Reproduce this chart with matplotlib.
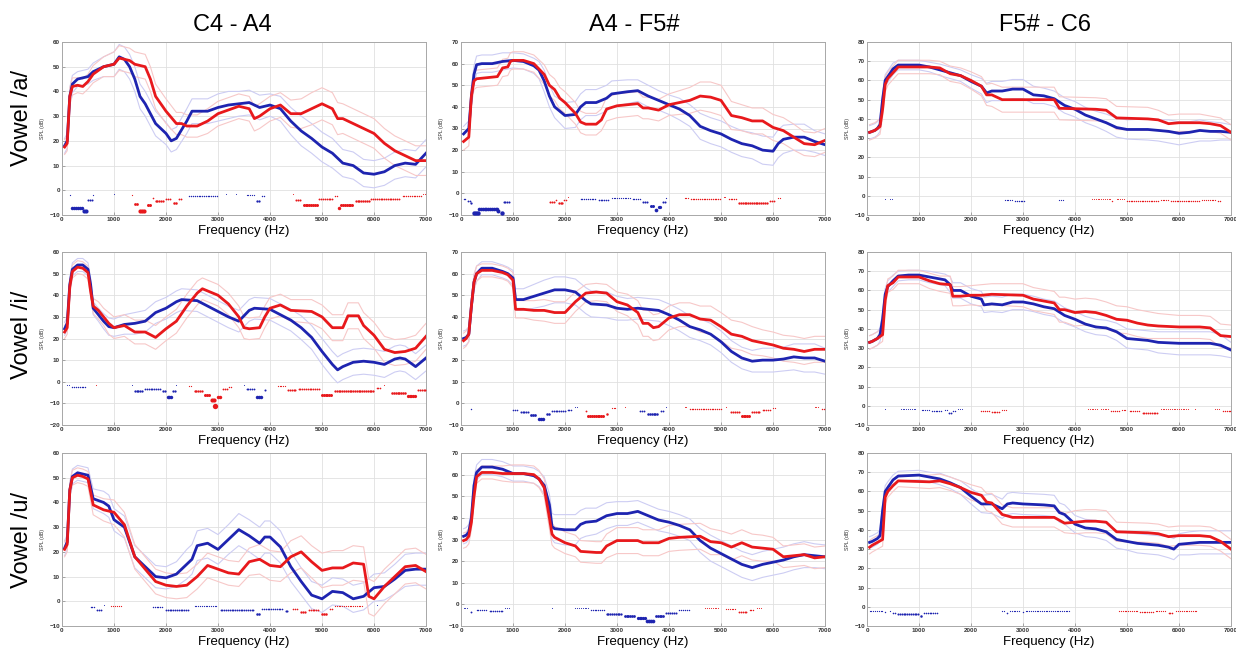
import numpy as np
import matplotlib.pyplot as plt

plt.rcParams['font.family'] = ['Liberation Sans', 'DejaVu Sans']

RANGES = ['C4 - A4', 'A4 - F5#', 'F5# - C6']
VOWELS = ['Vowel /a/', 'Vowel /i/', 'Vowel /u/']
FREQ_TICKS = [0, 1000, 2000, 3000, 4000, 5000, 6000, 7000]

# mean spectra: (frequency Hz, mean SPL dB, standard deviation dB)
A_LOW_BLUE = [(50, 18, 3), (100, 20, 3), (150, 38, 3.5), (200, 43, 3.5), (300, 45, 3), (400, 45.5, 3),
              (500, 46, 3), (600, 48, 3.5), (800, 50, 4), (1000, 51, 5), (1100, 54, 5), (1200, 53, 5),
              (1300, 50, 5), (1400, 45, 5), (1500, 38, 5), (1600, 35, 5), (1800, 27, 5), (2000, 23, 4.5),
              (2100, 20, 4.5), (2200, 21, 4.5), (2400, 28, 5), (2500, 32, 5), (2800, 32, 5), (3000, 33.5, 5.5),
              (3200, 34.5, 5.5), (3400, 35, 5), (3600, 35.5, 5), (3800, 33.5, 5), (4000, 34.5, 4.5),
              (4200, 33, 5), (4400, 28, 5.5), (4600, 24, 6), (4800, 21, 6), (5000, 17.5, 6), (5200, 15, 6),
              (5400, 11, 5.5), (5600, 10, 5.5), (5800, 7, 5.5), (6000, 6.5, 5.5), (6200, 7.5, 5.5),
              (6400, 10, 5.5), (6600, 11, 5.5), (6800, 10.5, 5.5), (7000, 15, 5.5)]
A_LOW_RED = [(50, 17.5, 3), (100, 19, 3), (150, 38, 3.5), (200, 42, 3.5), (300, 42.5, 3), (400, 42, 3),
             (500, 44, 3), (600, 47, 3.5), (800, 50, 4), (1000, 51, 5), (1100, 53.5, 5), (1300, 52.5, 5),
             (1400, 51, 5), (1600, 50, 5), (1700, 45, 5), (1800, 38, 5), (2000, 32, 5), (2200, 27, 4.5),
             (2300, 27, 4.5), (2400, 26, 4.5), (2600, 26, 4.5), (2800, 28, 5), (3000, 31, 5), (3200, 32.5, 5),
             (3400, 34, 5), (3600, 33, 5), (3700, 29, 5), (3800, 30, 5), (4000, 33, 5), (4200, 34.5, 5),
             (4400, 31, 5.5), (4600, 31, 6), (4800, 33, 6.5), (5000, 35, 6.5), (5200, 33, 6.5),
             (5300, 29, 6.5), (5400, 29, 6), (5600, 27, 6), (5800, 25, 6), (6000, 23, 6), (6200, 19, 6),
             (6400, 16, 6), (6600, 14, 6), (6800, 12, 6), (7000, 12, 6)]
A_MID_BLUE = [(50, 27.5, 3.5), (150, 30, 3.5), (200, 45, 4), (250, 55, 4), (300, 59.5, 4), (400, 60, 4),
              (600, 60, 4), (800, 61, 4), (1000, 61.5, 3.5), (1200, 61, 3.5), (1400, 59, 3.5), (1500, 57, 4),
              (1600, 52, 5), (1700, 45, 5), (1800, 40, 5), (2000, 36, 6), (2200, 36.5, 6), (2300, 40, 6),
              (2400, 42, 6), (2600, 42, 6), (2800, 44, 6), (2900, 46, 6), (3200, 47, 5.5), (3400, 47.5, 5),
              (3600, 45, 5), (3800, 43, 4.5), (4000, 41, 4.5), (4200, 39, 5), (4400, 36, 5), (4600, 31, 6),
              (4800, 29, 6), (5000, 27.5, 6), (5200, 25, 6), (5400, 23, 6), (5600, 22, 6), (5800, 20, 6.5),
              (6000, 19.5, 6.5), (6100, 23, 6.5), (6200, 25, 6.5), (6400, 26, 6), (6600, 26, 6),
              (6800, 24, 5), (7000, 22.5, 5)]
A_MID_RED = [(50, 24, 4), (150, 26, 4), (200, 45, 4), (250, 52, 4), (300, 53, 4), (500, 53.5, 4),
             (700, 54, 4), (800, 58, 4), (900, 58.5, 4), (950, 61, 4), (1000, 61.5, 4), (1200, 61.5, 4),
             (1400, 60, 4), (1600, 55, 4.5), (1700, 50, 5), (1800, 48, 5), (1900, 44, 5), (2000, 42, 5),
             (2200, 37, 5), (2300, 33, 5), (2400, 32, 5), (2600, 32, 5), (2700, 34, 5), (2800, 39, 5.5),
             (3000, 40.5, 5.5), (3200, 41, 5.5), (3400, 41.5, 5.5), (3500, 39.5, 5), (3600, 39.5, 5),
             (3800, 38.5, 5), (4000, 41, 5), (4200, 42, 5.5), (4400, 43, 6), (4600, 45, 6.5),
             (4800, 44.5, 7), (5000, 43, 7), (5200, 36, 6.5), (5400, 35, 6), (5600, 33.5, 6),
             (5800, 33.5, 6), (6000, 30.5, 6), (6200, 29, 6), (6400, 26, 6), (6600, 23, 5.5),
             (6800, 22.5, 5.5), (7000, 24.5, 5.5)]
A_HIGH_BLUE = [(50, 33, 3.5), (100, 33.5, 3.5), (150, 34, 3.5), (200, 35, 3.5), (250, 37, 3.5), (300, 50, 3.5),
               (350, 60, 3), (400, 62, 3), (500, 66, 3), (600, 68, 2.5), (1000, 68, 2.5), (1200, 67, 2.5),
               (1400, 65.5, 3), (1600, 64, 3), (1800, 62.5, 3), (2000, 59.5, 3.5), (2200, 57, 4),
               (2300, 53.5, 5), (2400, 54.5, 5), (2600, 54.5, 5), (2800, 55.5, 5), (3000, 55.5, 5),
               (3200, 52.5, 4.5), (3400, 52, 4), (3600, 50.5, 4), (3800, 47, 4), (4000, 45, 4), (4200, 42, 4),
               (4400, 40, 4), (4600, 38, 4.5), (4800, 35.5, 5), (5000, 34.5, 5), (5400, 34.5, 5.5),
               (5600, 34, 5.5), (5800, 33.5, 6), (6000, 32.5, 6), (6200, 33, 5.5), (6400, 34, 5.5),
               (6600, 33.5, 5), (6800, 33.5, 4.5), (7000, 33, 4)]
A_HIGH_RED = [(50, 33, 4), (150, 34, 4), (200, 35, 4), (250, 36, 4), (300, 45, 4), (350, 58, 4), (400, 61, 3.5),
              (500, 64, 3.5), (600, 67, 3.5), (1200, 67, 3.5), (1400, 66.5, 3.5), (1600, 63.5, 4),
              (1800, 62.5, 4), (2000, 60, 4.5), (2200, 57, 5), (2300, 52.5, 5.5), (2400, 52.5, 6),
              (2600, 50, 6.5), (3600, 50, 6.5), (3700, 45.5, 6), (4400, 45, 6), (4600, 44.5, 6),
              (4800, 40.5, 6), (5400, 40, 6), (5600, 39.5, 5), (5800, 37.5, 4.5), (6000, 38, 4.5),
              (6400, 38, 4.5), (6600, 37.5, 4), (6800, 36.5, 4), (7000, 33, 4)]

I_LOW_BLUE = [(50, 24.5, 3), (100, 27, 3), (150, 45, 3), (200, 52, 3), (300, 54, 3), (400, 54, 3), (500, 52, 3),
              (550, 45, 3), (600, 34, 3), (700, 31, 3), (800, 28, 3.5), (900, 25.5, 4), (1000, 25, 4),
              (1200, 26.5, 4.5), (1400, 27, 5), (1600, 28, 5), (1800, 32, 5), (2000, 34, 5), (2200, 37, 5),
              (2300, 38, 5), (2600, 37.5, 5), (2800, 35, 5), (3000, 32.5, 5), (3200, 30, 5), (3400, 28, 5),
              (3600, 33, 5), (3700, 34, 5), (4000, 33.5, 5), (4200, 31, 5), (4400, 28.5, 5), (4600, 25, 5.5),
              (4800, 20.5, 5.5), (5000, 14, 6), (5200, 8, 6), (5300, 5.5, 6), (5400, 7, 6), (5600, 9, 6),
              (5800, 9.5, 6), (6000, 9, 6), (6200, 8, 6), (6400, 10.5, 6), (6500, 11, 6), (6600, 10.5, 6),
              (6800, 7, 6), (7000, 11, 6)]
I_LOW_RED = [(50, 23, 3), (100, 25, 3), (150, 44, 3), (200, 51, 3), (300, 53, 3), (400, 52.5, 3), (500, 50.5, 3),
             (550, 42, 3), (600, 35, 3.5), (700, 33, 4), (800, 30, 4), (900, 27, 5), (1000, 25, 5),
             (1200, 26, 5), (1400, 23, 5.5), (1600, 23, 5.5), (1800, 20.5, 5.5), (2000, 24.5, 5.5),
             (2200, 28, 5.5), (2400, 35, 5.5), (2600, 41, 5.5), (2700, 43, 5), (2800, 42, 5), (3000, 40, 5),
             (3200, 36, 5), (3400, 30, 5), (3500, 25, 5), (3600, 24.5, 5), (3800, 25, 5), (3900, 30, 5),
             (4000, 34, 5), (4200, 35.5, 5), (4400, 33, 5), (4800, 32.5, 5.5), (5000, 30, 5.5), (5200, 25, 6),
             (5400, 25, 6), (5500, 30.5, 6), (5700, 30.5, 6), (5800, 26, 6), (6000, 21.5, 6), (6200, 15, 6),
             (6400, 13.5, 6), (6600, 14, 6), (6800, 15.5, 6), (7000, 21, 6)]
I_MID_BLUE = [(50, 30, 3.5), (100, 30.5, 3.5), (150, 32, 3.5), (200, 45, 3.5), (250, 56, 3.5), (300, 60, 3.5),
              (400, 62.5, 3), (600, 62.5, 3), (800, 61, 3), (900, 60, 3), (1000, 58, 3.5), (1050, 48, 5),
              (1200, 48, 5), (1400, 49.5, 5.5), (1600, 51, 6), (1800, 52.5, 6), (2000, 52.5, 6),
              (2200, 51.5, 6), (2400, 47.5, 6), (2500, 46, 6), (2800, 45.5, 6), (3000, 44, 5.5),
              (3200, 43.5, 5), (3400, 44, 5), (3600, 43.5, 5), (3800, 43, 5), (4000, 41, 5), (4200, 38.5, 5),
              (4400, 35.5, 5), (4600, 34, 5), (4800, 32, 5), (5000, 28.5, 5), (5200, 24, 5), (5400, 21, 5),
              (5600, 19.5, 5), (5800, 20, 5.5), (6000, 20, 5.5), (6200, 20.5, 5.5), (6400, 21.5, 6),
              (6600, 21, 6.5), (6800, 21, 6.5), (7000, 19.5, 6)]
I_MID_RED = [(50, 29, 3.5), (100, 30, 3.5), (150, 32, 3.5), (200, 45, 3.5), (250, 56, 3.5), (300, 60, 3.5),
             (400, 61.5, 3), (600, 61.5, 3), (800, 60.5, 3), (900, 59.5, 3), (1000, 57, 3.5), (1050, 43.5, 4),
             (1200, 43.5, 4), (1400, 43, 4.5), (1600, 43, 5), (1800, 42, 5), (2000, 42, 5), (2200, 47, 4.5),
             (2400, 51, 4), (2600, 51.5, 4), (2800, 51, 4), (3000, 47, 4.5), (3200, 45.5, 5), (3400, 42, 5.5),
             (3500, 37, 6), (3600, 37, 6), (3700, 35, 6), (3800, 35.5, 6), (4000, 39.5, 5.5), (4200, 41, 5.5),
             (4400, 41, 5.5), (4600, 39, 6), (4800, 38.5, 6.5), (5000, 35.5, 6.5), (5200, 32, 6.5),
             (5400, 31, 6.5), (5600, 29, 6.5), (5800, 28, 6), (6000, 27, 6), (6200, 25.5, 6), (6400, 25, 6),
             (6600, 24, 6), (6800, 25, 6), (7000, 25, 6)]
I_HIGH_BLUE = [(50, 33, 3.5), (100, 33.5, 3.5), (200, 35, 3.5), (250, 37, 3.5), (300, 45, 3.5), (350, 58, 3),
               (400, 62, 3), (500, 65, 3), (600, 67.5, 2.5), (800, 68, 2.5), (1000, 68, 2.5), (1200, 67, 3),
               (1400, 66, 3), (1500, 65.5, 3), (1600, 63, 4), (1650, 60, 4), (1800, 60, 4), (1900, 58.5, 4),
               (2000, 57, 4), (2200, 55.5, 4), (2250, 52.5, 4), (2400, 53, 4), (2600, 52.5, 4), (2800, 54, 4),
               (3000, 54, 4), (3200, 53, 4), (3400, 51.5, 4), (3600, 50.5, 4), (3800, 47, 4), (4000, 45, 4),
               (4200, 42.5, 4), (4400, 41, 4), (4600, 40.5, 4), (4800, 38.5, 4.5), (5000, 35, 5),
               (5200, 34.5, 5), (5400, 34, 5), (5600, 33, 5.5), (6000, 32.5, 6), (6600, 32.5, 6),
               (6800, 31.5, 5.5), (7000, 29, 4)]
I_HIGH_RED = [(50, 33, 3.5), (100, 33.5, 3.5), (200, 35, 3.5), (300, 37, 3.5), (350, 55, 3.5), (400, 62.5, 3.5),
              (500, 64, 3.5), (600, 67, 3.5), (1000, 67, 3.5), (1200, 65, 4), (1400, 63.5, 4), (1600, 63, 4.5),
              (1650, 57, 5), (1800, 57, 5), (2000, 57.5, 5), (2200, 57.5, 5.5), (2400, 58, 5.5),
              (3000, 57.5, 6), (3200, 55.5, 6), (3400, 54.5, 6), (3600, 53.5, 6), (3700, 50, 6.5),
              (3800, 50, 6.5), (4000, 48.5, 7), (4200, 49, 7), (4400, 48.5, 7), (4600, 47, 7), (4800, 45, 7),
              (5000, 44.5, 7), (5200, 43, 7), (5400, 42, 7), (5600, 41.5, 6.5), (6000, 41, 6), (6400, 41, 6),
              (6600, 40.5, 6), (6800, 36.5, 6), (7000, 36, 6)]

U_LOW_BLUE = [(50, 21.5, 3), (100, 24, 3), (150, 45, 3), (200, 50.5, 3), (300, 52, 3), (400, 51.5, 3),
              (500, 51, 3), (600, 41.5, 4), (800, 40, 4.5), (900, 38.5, 4.5), (1000, 33, 4.5), (1200, 30, 4.5),
              (1400, 18, 4.5), (1600, 14, 4.5), (1800, 10, 4.5), (2000, 9.5, 4.5), (2200, 11, 5),
              (2400, 15, 6), (2500, 17, 6), (2600, 22.5, 6), (2800, 23.5, 6), (3000, 21, 6), (3200, 25, 6),
              (3400, 29, 6.5), (3600, 26.5, 6.5), (3800, 23.5, 6.5), (3900, 26, 6.5), (4000, 26, 6.5),
              (4200, 22, 6.5), (4400, 14, 6), (4600, 8, 5.5), (4800, 2.5, 5.5), (5000, 1, 5.5), (5200, 4, 5.5),
              (5400, 3.5, 5.5), (5600, 1, 5.5), (5800, 2, 5.5), (6000, 5.5, 5.5), (6200, 6, 5.5),
              (6400, 9, 6), (6600, 12.5, 6.5), (6800, 13, 6.5), (7000, 13, 6.5)]
U_LOW_RED = [(50, 21, 3), (100, 23, 3), (150, 45, 3), (200, 50, 3), (300, 51, 3), (400, 50.5, 3),
             (500, 49.5, 3), (600, 39, 4), (800, 37, 4.5), (1000, 36, 5), (1200, 31, 5), (1400, 18, 5),
             (1600, 13, 5), (1800, 8, 5), (2000, 6.5, 5), (2200, 6, 5), (2400, 6.5, 5), (2600, 10, 5),
             (2800, 14.5, 5), (3000, 13, 5), (3200, 11.5, 5), (3400, 11, 5), (3600, 16, 5.5), (3800, 17, 6),
             (4000, 14.5, 6), (4200, 14, 6), (4400, 18, 6.5), (4600, 20, 6.5), (4800, 16, 6.5),
             (5000, 12.5, 7), (5200, 13.5, 7), (5400, 13.5, 7), (5600, 15.5, 7), (5800, 15, 7), (5900, 2, 7),
             (6000, 1, 7), (6200, 6, 7), (6400, 10, 7), (6600, 14, 7), (6800, 14.5, 7), (7000, 12, 7)]
U_MID_BLUE = [(50, 31.5, 3.5), (100, 32, 3.5), (150, 33.5, 3.5), (200, 40, 3.5), (250, 55, 3.5), (300, 61, 3.5),
              (400, 63.5, 3.5), (600, 63.5, 3.5), (800, 62.5, 3.5), (900, 61.5, 3.5), (1000, 60.5, 3.5),
              (1200, 60.5, 3.5), (1400, 59.5, 3.5), (1500, 58, 3.5), (1600, 55, 4), (1700, 46, 5),
              (1750, 36, 6), (1800, 35, 6.5), (2000, 34.5, 7), (2200, 34.5, 7), (2300, 37, 6.5),
              (2400, 38, 6.5), (2600, 38.5, 6), (2800, 41, 6), (3000, 42, 5.5), (3200, 42, 5.5),
              (3400, 43, 5), (3600, 41, 5), (3800, 39, 5), (4000, 38, 5), (4200, 36.5, 5), (4400, 34.5, 5),
              (4600, 29.5, 5.5), (4800, 26, 6), (5000, 23.5, 6), (5200, 21, 6), (5400, 18.5, 6),
              (5600, 17, 6), (5800, 18.5, 6), (6000, 19.5, 6), (6200, 20.5, 6), (6400, 22, 6), (6600, 23, 6),
              (6800, 22.5, 5.5), (7000, 22, 5.5)]
U_MID_RED = [(50, 29.5, 3.5), (100, 30, 3.5), (150, 31.5, 3.5), (200, 38, 3.5), (250, 50, 3.5), (300, 59, 3),
             (400, 61, 3), (600, 61, 3), (800, 60.5, 3.5), (1000, 60.5, 4), (1200, 60.5, 4), (1400, 60, 4),
             (1500, 58, 4), (1600, 54, 4), (1700, 40, 5), (1750, 32.5, 5), (1800, 31, 5), (2000, 28.5, 5),
             (2200, 27, 5), (2300, 24.5, 5), (2600, 24, 5), (2700, 24, 5), (2800, 27, 5.5), (3000, 29.5, 6),
             (3400, 29.5, 6), (3500, 28.5, 6), (3800, 28.5, 6), (4000, 30.5, 6), (4200, 31, 6),
             (4600, 31.5, 6), (4800, 29, 6), (5000, 28.5, 5.5), (5200, 26.5, 6), (5400, 28.5, 6),
             (5600, 26.5, 6), (5800, 26, 6), (6000, 25.5, 5.5), (6200, 22, 5), (6400, 22.5, 5),
             (6600, 23, 5), (6800, 21.5, 5), (7000, 22, 5)]
U_HIGH_BLUE = [(50, 33.5, 3), (100, 34, 3), (200, 35.5, 3), (250, 37, 3), (300, 50, 3), (350, 60, 3), (400, 62, 3),
               (500, 66, 2.5), (600, 68, 2.5), (1000, 68.5, 2.5), (1200, 67.5, 2.5), (1400, 66.5, 3),
               (1600, 64.5, 3), (1800, 62, 3.5), (2000, 57.5, 4), (2200, 53.5, 4.5), (2400, 53.5, 5),
               (2600, 51, 5), (2700, 53.5, 5.5), (2800, 54, 5.5), (3000, 53.5, 5.5), (3400, 53, 5.5),
               (3600, 52.5, 5.5), (3700, 49, 5), (3800, 48, 5), (4000, 43, 4.5), (4200, 41, 4.5),
               (4400, 40.5, 4.5), (4600, 39, 4.5), (4800, 35, 4.5), (5000, 34, 4.5), (5200, 33, 5),
               (5400, 32.5, 5), (5600, 32, 5), (5800, 31, 5.5), (5900, 30, 5.5), (6000, 32.5, 5.5),
               (6200, 33, 6), (6400, 33.5, 6), (7000, 33.5, 6)]
U_HIGH_RED = [(50, 31, 3.5), (100, 32, 3.5), (200, 33.5, 3.5), (300, 35, 3.5), (350, 57, 3.5), (400, 60, 3),
              (500, 63, 3), (600, 65.5, 3), (1200, 65, 3.5), (1400, 65.5, 3.5), (1600, 64, 3.5),
              (1800, 62, 3.5), (2000, 59.5, 4), (2200, 58, 4), (2300, 54.5, 4.5), (2400, 54, 5),
              (2600, 48, 5), (2800, 46.5, 5), (3600, 46.5, 5), (3800, 43.5, 5), (4000, 44, 6),
              (4200, 44.5, 6), (4400, 44.5, 6), (4600, 44, 6), (4800, 39, 5), (5400, 38.5, 5),
              (5600, 38, 5), (5800, 36.5, 5), (6000, 37, 5), (6400, 37, 5), (6600, 36.5, 5),
              (6800, 34, 5), (7000, 30, 5)]

# significant differences: (start Hz, end Hz, depth of the marker row)
A_LOW_SIG_BLUE = [(150, 150, -2), (200, 400, -7), (420, 470, -8.5), (500, 570, -4), (600, 600, -2),
                  (1000, 1000, -1.5), (2450, 3000, -2.5), (3150, 3150, -1.5), (3350, 3350, -1.5),
                  (3550, 3700, -2), (3750, 3800, -4.5), (3850, 3900, -2.5)]
A_LOW_SIG_RED = [(1350, 1350, -2), (1400, 1450, -5.5), (1500, 1600, -8.5), (1650, 1700, -6), (1750, 1750, -3),
                 (1800, 1950, -4.5), (2000, 2100, -3.5), (2150, 2200, -5), (2250, 2300, -3.5),
                 (4450, 4450, -1.5), (4500, 4600, -4), (4650, 4900, -6), (4950, 5200, -3.5),
                 (5250, 5300, -2.5), (5330, 5330, -7), (5370, 5600, -6), (5650, 5900, -4.5),
                 (5950, 6500, -3.5), (6550, 6900, -2.5), (6950, 7000, -1.5)]
A_MID_SIG_BLUE = [(50, 100, -2.5), (130, 170, -3.5), (200, 200, -4.5), (250, 320, -9), (350, 700, -7.3),
                  (720, 750, -8), (780, 780, -9), (820, 950, -4), (2300, 2600, -2.5), (2650, 2850, -3),
                  (2900, 3250, -2), (3300, 3450, -2.5), (3500, 3600, -4), (3650, 3700, -6),
                  (3750, 3780, -7.5), (3800, 3850, -6.5), (3880, 3920, -4), (3950, 3970, -2)]
A_MID_SIG_RED = [(1720, 1800, -4), (1830, 1860, -3), (1880, 1950, -4.5), (1980, 2020, -3), (2050, 2050, -1.5),
                 (4300, 4400, -2), (4420, 5000, -2.5), (5050, 5100, -1.5), (5150, 5300, -2.5),
                 (5350, 5900, -4.5), (5950, 6050, -3.5), (6100, 6150, -2)]
A_HIGH_SIG_BLUE = [(350, 350, -1.5), (450, 500, -1.5), (2650, 2800, -2), (2850, 3050, -2.5), (3700, 3800, -2)]
A_HIGH_SIG_RED = [(4330, 4700, -1.5), (4720, 4750, -2.5), (4800, 4950, -1.5), (5000, 5600, -2.5),
                  (5650, 5800, -2), (5850, 6400, -2.5), (6450, 6700, -2), (6750, 6800, -2.5)]

I_LOW_SIG_BLUE = [(100, 150, -1.5), (200, 450, -2.5), (1350, 1350, -1.5), (1400, 1550, -4.5), (1600, 1900, -3.5),
                  (1950, 2000, -4.5), (2030, 2100, -7), (2130, 2180, -4.5), (2200, 2230, -1.5),
                  (3500, 3500, -1.5), (3550, 3700, -3.5), (3750, 3850, -7), (3900, 3900, -4)]
I_LOW_SIG_RED = [(650, 650, -1.5), (2450, 2500, -2), (2550, 2700, -4.5), (2750, 2850, -6), (2880, 2920, -8.5),
                 (2950, 2950, -11), (3000, 3050, -7), (3100, 3200, -3.5), (3220, 3270, -2.5),
                 (4150, 4300, -2), (4350, 4500, -4), (4550, 4950, -3.5), (5000, 5200, -6),
                 (5250, 6000, -4.5), (6050, 6150, -3), (6200, 6200, -1.5), (6350, 6600, -5),
                 (6650, 6800, -6.5), (6850, 7000, -4)]
I_MID_SIG_BLUE = [(200, 200, -2.5), (1000, 1100, -3), (1150, 1300, -4), (1350, 1450, -5.5), (1500, 1600, -7),
                  (1650, 1700, -5), (1750, 2000, -3.5), (2050, 2150, -3), (2200, 2250, -1.5),
                  (3450, 3550, -3.5), (3600, 3800, -5), (3850, 3900, -3.5), (3950, 3950, -1.5)]
I_MID_SIG_RED = [(2400, 2400, -3.5), (2450, 2750, -6), (2800, 2800, -5), (2900, 3000, -2), (3150, 3150, -1.5),
                 (4300, 4350, -1.5), (4400, 5000, -2.5), (5100, 5100, -1.5), (5200, 5350, -4),
                 (5400, 5550, -6), (5600, 5750, -4), (5800, 5950, -3), (6000, 6050, -2),
                 (6800, 6900, -1.5), (6950, 7000, -2.5)]
I_HIGH_SIG_BLUE = [(350, 350, -1.5), (650, 950, -1.5), (1050, 1200, -2), (1250, 1450, -2.5), (1500, 1550, -2),
                   (1580, 1620, -3.5), (1650, 1700, -2.5), (1750, 1850, -1.5)]
I_HIGH_SIG_RED = [(2200, 2350, -2.5), (2400, 2550, -3), (2600, 2700, -2), (4250, 4450, -1.5),
                  (4500, 4650, -1.5), (4700, 4850, -2.5), (4900, 5000, -2), (5050, 5250, -2.5),
                  (5300, 5600, -3.5), (5650, 6200, -1.5), (6300, 6300, -1.5), (6700, 6800, -1.5),
                  (6850, 7000, -2.5)]

U_LOW_SIG_BLUE = [(550, 650, -2.5), (680, 750, -3.5), (800, 800, -1.5), (1750, 1950, -2.5), (2000, 2450, -3.5),
                  (2550, 3000, -2), (3050, 3700, -3.5), (3750, 3800, -5), (3850, 4250, -3), (4300, 4350, -4),
                  (6050, 6050, -1.5)]
U_LOW_SIG_RED = [(950, 1150, -2), (4450, 4550, -3), (4600, 4700, -4.5), (4750, 4950, -3.5), (5000, 5100, -5),
                 (5150, 5200, -3), (5250, 5800, -2)]
U_MID_SIG_BLUE = [(50, 150, -1.5), (200, 200, -3.5), (300, 500, -2.5), (550, 800, -3), (850, 950, -1.5),
                  (1750, 1750, -1.5), (2200, 2450, -1.5), (2500, 2750, -2.5), (2800, 3100, -4.5),
                  (3150, 3350, -5.5), (3400, 3550, -6.5), (3580, 3700, -7.5), (3750, 3900, -5.5),
                  (3950, 4150, -4), (4200, 4400, -2.5)]
U_MID_SIG_RED = [(4700, 4950, -1.5), (5100, 5300, -2), (5350, 5500, -3.5), (5550, 5650, -2.5), (5700, 5800, -1.5)]
U_HIGH_SIG_BLUE = [(50, 300, -2), (350, 350, -2.5), (450, 480, -2), (500, 550, -3), (600, 1000, -4),
                   (1030, 1060, -5), (1100, 1350, -3), (2600, 2650, -2), (2700, 2700, -3), (2750, 2950, -2),
                   (3000, 3000, -2.5), (3050, 3900, -2)]
U_HIGH_SIG_RED = [(4850, 5200, -2), (5250, 5500, -2.5), (5550, 5750, -2), (5800, 5900, -3), (5950, 6350, -2)]

Y_LIMITS = [[(-10, 60), (-10, 70), (-10, 80)],
            [(-20, 60), (-10, 70), (-10, 80)],
            [(-10, 60), (-10, 70), (-10, 80)]]

BLUE = '#1e24b0'
RED = '#e8191c'
BLUE_LIGHT = '#cdcdf3'
RED_LIGHT = '#f7c8c8'
BIN_HZ = 35


def draw_spectrum(ax, series, color, light):
    f, m, sd = (np.array(v, dtype=float) for v in zip(*series))
    ax.plot(f, m + sd, color=light, lw=0.8, zorder=2)
    ax.plot(f, m - sd, color=light, lw=0.8, zorder=2)
    return f, m


def draw_significance(ax, segments, color):
    for f0, f1, depth in segments:
        bins = np.arange(f0, f1 + 1, BIN_HZ)
        ax.scatter(bins, np.full(len(bins), depth), s=0.12 * depth ** 2 + 0.3,
                   color=color, linewidths=0, zorder=4)


def draw_panel(ax, blue, red, sig_blue, sig_red, ylim):
    fb, mb = draw_spectrum(ax, blue, BLUE, BLUE_LIGHT)
    fr, mr = draw_spectrum(ax, red, RED, RED_LIGHT)
    ax.plot(fb, mb, color=BLUE, lw=2.0, zorder=3)
    ax.plot(fr, mr, color=RED, lw=2.0, zorder=3)
    draw_significance(ax, sig_blue, BLUE)
    draw_significance(ax, sig_red, RED)

    ax.set_xlim(0, 7000)
    ax.set_ylim(*ylim)
    ax.set_xticks(FREQ_TICKS)
    ax.set_yticks(np.arange(ylim[0], ylim[1] + 1, 10))
    ax.grid(True, color='#e0e0e0', lw=0.6)
    ax.set_axisbelow(True)
    ax.tick_params(direction='in', length=2, width=0.5, colors='#888888', labelcolor='#333333',
                   labelsize=4.5, pad=1.5)
    for lbl in ax.get_xticklabels() + ax.get_yticklabels():
        lbl.set_fontweight('bold')
    for sp in ax.spines.values():
        sp.set_color('#a8a8a8')
        sp.set_linewidth(0.7)
    ax.set_ylabel('SPL (dB)', fontsize=3.8, color='#333333')
    ax.yaxis.set_label_coords(-0.047, 0.5)
    ax.set_xlabel('Frequency (Hz)', fontsize=9.5)
    ax.xaxis.set_label_coords(0.5, -0.055)


W, H = 1236, 651
fig = plt.figure(figsize=(W / 100, H / 100), dpi=100)

col_left = [62, 461, 867]
row_top = [42, 252, 453]
ax_w, ax_h = 364, 173

panels = [[(A_LOW_BLUE, A_LOW_RED, A_LOW_SIG_BLUE, A_LOW_SIG_RED),
           (A_MID_BLUE, A_MID_RED, A_MID_SIG_BLUE, A_MID_SIG_RED),
           (A_HIGH_BLUE, A_HIGH_RED, A_HIGH_SIG_BLUE, A_HIGH_SIG_RED)],
          [(I_LOW_BLUE, I_LOW_RED, I_LOW_SIG_BLUE, I_LOW_SIG_RED),
           (I_MID_BLUE, I_MID_RED, I_MID_SIG_BLUE, I_MID_SIG_RED),
           (I_HIGH_BLUE, I_HIGH_RED, I_HIGH_SIG_BLUE, I_HIGH_SIG_RED)],
          [(U_LOW_BLUE, U_LOW_RED, U_LOW_SIG_BLUE, U_LOW_SIG_RED),
           (U_MID_BLUE, U_MID_RED, U_MID_SIG_BLUE, U_MID_SIG_RED),
           (U_HIGH_BLUE, U_HIGH_RED, U_HIGH_SIG_BLUE, U_HIGH_SIG_RED)]]

for r in range(3):
    for c in range(3):
        rect = [col_left[c] / W, 1 - (row_top[r] + ax_h) / H, ax_w / W, ax_h / H]
        ax = fig.add_axes(rect)
        draw_panel(ax, *panels[r][c], Y_LIMITS[r][c])

for x, name in zip([232, 634, 1045], RANGES):
    fig.text(x / W, 1 - 25 / H, name, fontsize=17, ha='center', va='center')
for y, name in zip([118, 335, 540], VOWELS):
    fig.text(22 / W, 1 - y / H, name, fontsize=17, rotation=90, ha='center', va='center')

fig.savefig('out.png', dpi=100)
